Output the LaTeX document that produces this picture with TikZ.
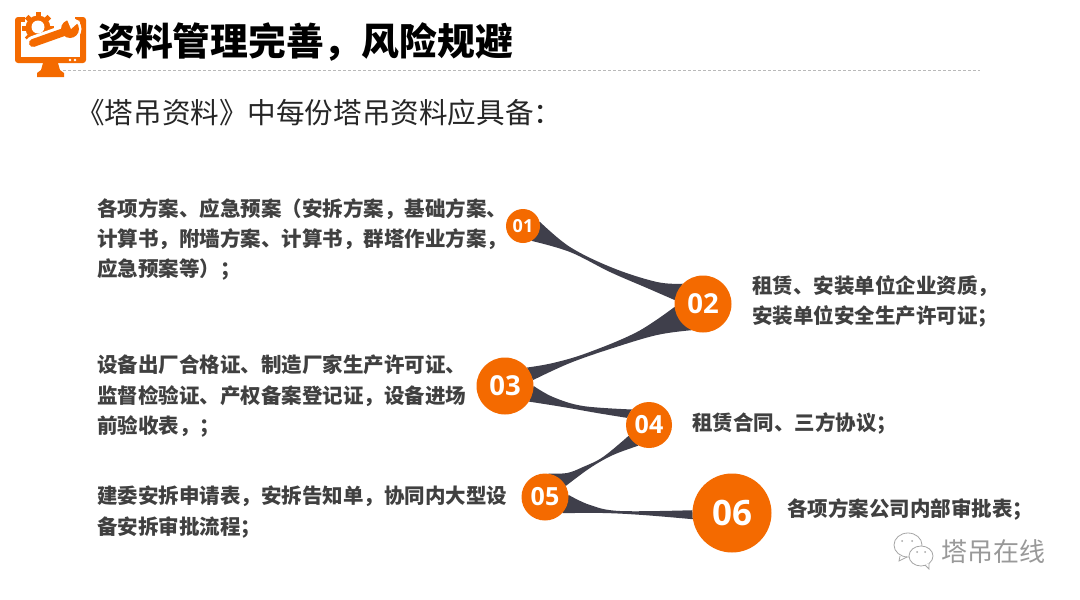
\documentclass[tikz,border=0pt]{standalone}
\usepackage{fontspec}
\setmainfont{Noto Sans CJK SC}
\newfontfamily\numfont{Open Sans}
\usetikzlibrary{calc}
\definecolor{org}{HTML}{F46A00}
\definecolor{ribbon}{HTML}{3F3F4B}
\definecolor{bodytxt}{HTML}{404040}
\newcommand{\numA}{\numfont\bfseries\fontsize{18}{18}\selectfont}
\newcommand{\numB}{\numfont\bfseries\fontsize{27.5}{28}\selectfont}
\newcommand{\numC}{\numfont\bfseries\fontsize{25}{25}\selectfont}
\newcommand{\numD}{\numfont\bfseries\fontsize{35}{35}\selectfont}
\tikzset{
  x=1pt,y=-1pt,
  dot/.style={circle,draw=none,inner sep=0pt,text=white},
  body/.style={anchor=north west,inner sep=0pt,align=left,text=bodytxt,font=\bfseries\fontsize{20.5}{30.3}\selectfont},
  rib/.style={fill=ribbon,draw=none,smooth,tension=0.6},
  icon/.style={fill=org,draw=none},
}
\begin{document}
\begin{tikzpicture}
\useasboundingbox[fill=white] (0,0) rectangle (1080,600);
\path (523,226) coordinate (c1) (703,304) coordinate (c2) (505,386) coordinate (c3)
      (649,425) coordinate (c4) (545,497) coordinate (c5) (732,513) coordinate (c6);
% invisible outlines give the anchors the ribbons start from
\node[dot,minimum size=34pt] (n1) at (c1) {};
\node[dot,minimum size=57pt] (n2) at (c2) {};
\node[dot,minimum size=57pt] (n3) at (c3) {};
\node[dot,minimum size=46pt] (n4) at (c4) {};
\node[dot,minimum size=47pt] (n5) at (c5) {};
\node[dot,minimum size=79pt] (n6) at (c6) {};
% ribbons
\fill[rib] plot coordinates {(n1.15) (570,247) (613,268) (657,282) (n2.135)}
  -- plot coordinates {(n2.172) (647,288) (610,272) (570,252) (n1.-60)} -- cycle;
\fill[rib] plot coordinates {(n2.-174) (637,332) (587,353) (553,363) (n3.40)}
  -- plot coordinates {(n3.12) (570,363) (613,348) (657,335) (n2.-114)} -- cycle;
\fill[rib] plot coordinates {(n3.0) (553,397) (583,406) (n4.138)}
  -- plot coordinates {(n4.162) (597,413) (563,407) (n3.-33)} -- cycle;
\fill[rib] plot coordinates {(n4.-152) (603,457) (583,467) (567,473) (n5.82)}
  -- plot coordinates {(n5.28) (590,468) (613,455) (n4.-117)} -- cycle;
\fill[rib] plot coordinates {(n5.5) (590,505) (620,511) (n6.176)}
  -- plot coordinates {(n6.-171) (643,515) (603,513) (n5.-43)} -- cycle;
% circles over the ribbons
\node[dot,fill=org,minimum size=34pt,font=\numA] at (c1) {01};
\node[dot,fill=org,minimum size=57pt,font=\numB] at (c2) {02};
\node[dot,fill=org,minimum size=57pt,font=\numB] at (c3) {03};
\node[dot,fill=org,minimum size=46pt,font=\numC] at (c4) {04};
\node[dot,fill=org,minimum size=47pt,font=\numC] at (c5) {05};
\node[dot,fill=org,minimum size=79pt,font=\numD] at (c6) {06};
% icon
\fill[icon,rounded corners=3pt] (15,17) rectangle (86,63);
\fill[white] (21,22) rectangle (80,57);
\fill[white] (25,10) rectangle (75,23);
\fill[icon] (43,63) -- (58,63) -- (60,70) -- (64,73) -- (64,77) -- (37,77) -- (37,73) -- (41,70) -- cycle;
\fill[white] (70,60) circle[radius=1.4] (75,60) circle[radius=1.4];
\fill[icon] (38,28) circle[radius=12.5];
\foreach \a in {0,45,...,315}{\fill[icon,rotate around={\a:(38,28)}] (35.5,12) rectangle (40.5,18);}
\fill[white] (38,27) circle[radius=6.5];
\draw[white,line width=14pt,line cap=round] (33,43) -- (64,32);
\fill[white] (70,29) circle[radius=11.5];
\draw[draw=org,line width=8pt,line cap=round] (33,43) -- (64,32);
\fill[icon] (70,29) circle[radius=9];
\fill[white] (66,17) -- (80,21) -- (71,29) -- cycle;
% title
\draw[densely dashed,gray!55,line width=0.6pt] (63,70) -- (980,70);
\node[anchor=west,inner sep=0pt,text=black,font=\bfseries\fontsize{37.8}{40}\selectfont] (title) at (97,42) {资料管理完善，风险规避};
\node[anchor=west,inner sep=0pt,text=black!85,font=\fontsize{28.6}{30}\selectfont] (sub) at (76,113) {《塔吊资料》中每份塔吊资料应具备：};
% bodies
\node[body] (t1) at (97,198) {各项方案、应急预案（安拆方案，基础方案、\\计算书，附墙方案、计算书，群塔作业方案，\\应急预案等）；};
\node[body] (t2) at (752,275) {租赁、安装单位企业资质，\\安装单位安全生产许可证；};
\node[body] (t3) at (97,355) {设备出厂合格证、制造厂家生产许可证、\\监督检验证、产权备案登记证，设备进场\\前验收表，；};
\node[body] (t4) at (692,412) {租赁合同、三方协议；};
\node[body] (t5) at (97,486) {建委安拆申请表，安拆告知单，协同内大型设\\备安拆审批流程；};
\node[body] (t6) at (787,498) {各项方案公司内部审批表；};
% watermark
\node[anchor=west,inner sep=0pt,text=black!40,font=\fontsize{26}{28}\selectfont] (wm) at (941,552) {塔吊在线};
\draw[black!35,line width=0.8pt,fill=white] (908,545) ellipse[x radius=14,y radius=12];
\draw[black!35,line width=0.8pt] (900,556) -- (899,561) -- (907,557);
\draw[black!35,line width=0.8pt,fill=white] (921,556) ellipse[x radius=12,y radius=10];
\draw[black!35,line width=0.8pt,fill=white] (925,565) -- (929,569) -- (929,563);
\fill[black!35] (902,541) circle[radius=1] (912,541) circle[radius=1] (917,552) circle[radius=1] (925,552) circle[radius=1];
\end{tikzpicture}
\end{document}
